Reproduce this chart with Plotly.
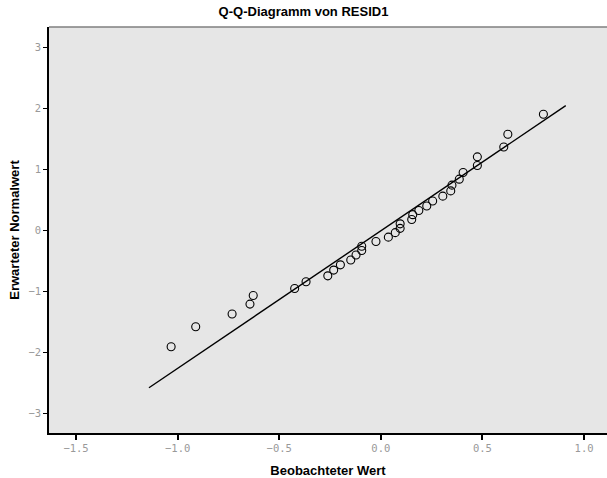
import plotly.graph_objects as go

# Observed residual values (x) and expected normal values (y)
observed = [-1.032, -0.911, -0.732, -0.644, -0.628, -0.424, -0.368, -0.261, -0.232,
            -0.199, -0.148, -0.122, -0.094, -0.094, -0.024, 0.037, 0.071, 0.095,
            0.095, 0.152, 0.157, 0.187, 0.226, 0.255, 0.305, 0.344, 0.350, 0.386,
            0.405, 0.475, 0.475, 0.605, 0.625, 0.800]
expected = [-1.902, -1.576, -1.367, -1.205, -1.064, -0.950, -0.840, -0.742, -0.648,
            -0.562, -0.483, -0.401, -0.327, -0.259, -0.180, -0.109, -0.035, 0.035,
            0.109, 0.180, 0.259, 0.327, 0.401, 0.483, 0.562, 0.648, 0.742, 0.840,
            0.950, 1.064, 1.205, 1.367, 1.576, 1.902]

# Reference line endpoints
line_x = [-1.141, 0.910]
line_y = [-2.573, 2.043]

x_ticks = [-1.5, -1.0, -0.5, 0.0, 0.5, 1.0]
y_ticks = [-3, -2, -1, 0, 1, 2, 3]

fig = go.Figure()
fig.add_trace(go.Scatter(x=line_x, y=line_y, mode="lines",
                         line=dict(color="black", width=1.4), hoverinfo="skip",
                         showlegend=False))
fig.add_trace(go.Scatter(x=observed, y=expected, mode="markers",
                         marker=dict(symbol="circle-open", size=8,
                                     color="black", line=dict(width=1.1)),
                         showlegend=False))

tickfont = dict(family="DejaVu Sans Mono", size=10.5, color="#999999")
fig.update_layout(
    width=607, height=478,
    margin=dict(l=49, r=0, t=27, b=45),
    paper_bgcolor="white",
    plot_bgcolor="#e6e6e6",
    title=dict(text="<b>Q-Q-Diagramm von RESID1</b>", x=0.5, xanchor="center",
               y=1 - 11 / 478, yanchor="middle",
               font=dict(family="Liberation Sans", size=13, color="black")),
    xaxis=dict(range=[-1.633, 1.113], tickvals=x_ticks, tickformat=".1f",
               showgrid=False, zeroline=False, showline=True, linecolor="black",
               linewidth=1.5, ticks="outside", ticklen=5, tickcolor="black",
               tickwidth=1.5, tickfont=tickfont,
               title=dict(text="<b>Beobachteter Wert</b>", standoff=14,
                          font=dict(family="Liberation Sans", size=13, color="black"))),
    yaxis=dict(range=[-3.314, 3.33], tickvals=y_ticks, tickformat="d",
               showgrid=False, zeroline=False, showline=True, linecolor="black",
               linewidth=1.5, ticks="outside", ticklen=4, tickcolor="black",
               tickwidth=1, tickfont=tickfont,
               title=dict(text="<b>Erwarteter Normalwert</b>", standoff=6,
                          font=dict(family="Liberation Sans", size=13, color="black"))),
    shapes=[dict(type="line", xref="paper", yref="paper", x0=0, x1=1, y0=1, y1=1,
                 line=dict(color="#7f7f7f", width=1.5))],
)

fig.write_html("out.html")
